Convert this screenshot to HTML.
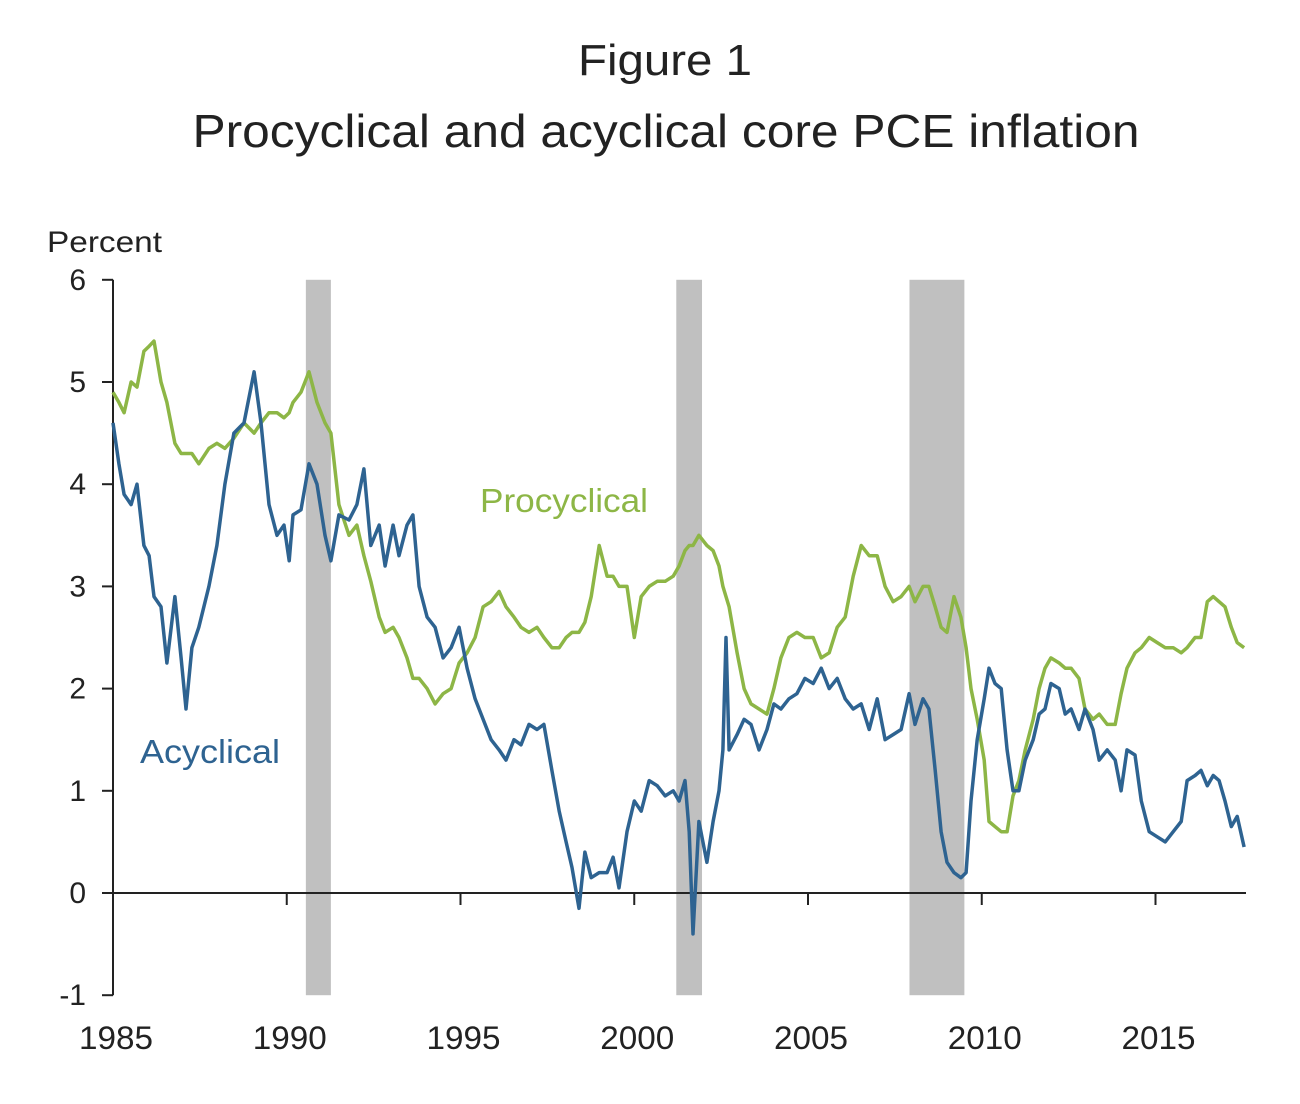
<!DOCTYPE html>
<html><head><meta charset="utf-8"><style>
html,body{margin:0;padding:0;background:#fff;}
svg{display:block;font-family:"Liberation Sans",sans-serif;}
</style></head><body>
<svg id="chart" width="1300" height="1104" viewBox="0 0 1300 1104" xmlns="http://www.w3.org/2000/svg">
<text x="665" y="75" font-size="44" text-anchor="middle" fill="#222" textLength="174" lengthAdjust="spacingAndGlyphs">Figure 1</text>
<text x="666" y="147" font-size="46" text-anchor="middle" fill="#222" textLength="947" lengthAdjust="spacingAndGlyphs">Procyclical and acyclical core PCE inflation</text>
<text x="47" y="252" font-size="30" fill="#222" textLength="115" lengthAdjust="spacingAndGlyphs">Percent</text>
<g id="rec"></g>
<g id="axes"></g>
<g id="series"></g>
<text x="480" y="512" font-size="33" fill="#8db646" textLength="168" lengthAdjust="spacingAndGlyphs">Procyclical</text>
<text x="140" y="763" font-size="33" fill="#2e6391" textLength="140" lengthAdjust="spacingAndGlyphs">Acyclical</text>
</svg>
<script>
const dates=[1985.00,1985.17,1985.32,1985.52,1985.69,1985.89,1986.04,1986.18,1986.38,1986.55,1986.78,1986.96,1987.10,1987.27,1987.47,1987.76,1987.99,1988.22,1988.48,1988.77,1989.06,1989.26,1989.49,1989.72,1989.92,1990.07,1990.18,1990.41,1990.64,1990.87,1991.10,1991.27,1991.50,1991.79,1992.02,1992.22,1992.42,1992.66,1992.83,1993.06,1993.23,1993.46,1993.63,1993.81,1994.04,1994.27,1994.50,1994.73,1994.96,1995.19,1995.42,1995.65,1995.88,1996.11,1996.31,1996.54,1996.74,1996.97,1997.20,1997.40,1997.63,1997.84,1998.04,1998.21,1998.41,1998.58,1998.76,1998.99,1999.22,1999.39,1999.56,1999.79,2000.00,2000.20,2000.43,2000.66,2000.89,2001.12,2001.29,2001.46,2001.58,2001.69,2001.86,2002.09,2002.27,2002.44,2002.55,2002.64,2002.73,2002.96,2003.16,2003.36,2003.59,2003.82,2004.02,2004.22,2004.45,2004.68,2004.91,2005.15,2005.38,2005.61,2005.84,2006.07,2006.30,2006.53,2006.76,2006.99,2007.22,2007.45,2007.68,2007.91,2008.08,2008.31,2008.48,2008.66,2008.83,2009.00,2009.20,2009.40,2009.55,2009.69,2009.87,2010.07,2010.21,2010.38,2010.56,2010.73,2010.90,2011.07,2011.25,2011.48,2011.65,2011.82,2011.99,2012.23,2012.40,2012.57,2012.80,2012.97,2013.20,2013.38,2013.61,2013.84,2014.01,2014.18,2014.41,2014.59,2014.82,2015.05,2015.28,2015.51,2015.74,2015.91,2016.14,2016.31,2016.49,2016.66,2016.83,2017.00,2017.18,2017.35,2017.55];
const acyclical=[4.6,4.2,3.9,3.8,4.0,3.4,3.3,2.9,2.8,2.25,2.9,2.3,1.8,2.4,2.6,3.0,3.4,4.0,4.5,4.6,5.1,4.6,3.8,3.5,3.6,3.25,3.7,3.75,4.2,4.0,3.5,3.25,3.7,3.65,3.8,4.15,3.4,3.6,3.2,3.6,3.3,3.6,3.7,3.0,2.7,2.6,2.3,2.4,2.6,2.2,1.9,1.7,1.5,1.4,1.3,1.5,1.45,1.65,1.6,1.65,1.2,0.8,0.5,0.25,-0.15,0.4,0.15,0.2,0.2,0.35,0.05,0.6,0.9,0.8,1.1,1.05,0.95,1.0,0.9,1.1,0.6,-0.4,0.7,0.3,0.7,1.0,1.4,2.5,1.4,1.55,1.7,1.65,1.4,1.6,1.85,1.8,1.9,1.95,2.1,2.05,2.2,2.0,2.1,1.9,1.8,1.85,1.6,1.9,1.5,1.55,1.6,1.95,1.65,1.9,1.8,1.2,0.6,0.3,0.2,0.15,0.2,0.9,1.5,1.9,2.2,2.05,2.0,1.4,1.0,1.0,1.3,1.5,1.75,1.8,2.05,2.0,1.75,1.8,1.6,1.8,1.6,1.3,1.4,1.3,1.0,1.4,1.35,0.9,0.6,0.55,0.5,0.6,0.7,1.1,1.15,1.2,1.05,1.15,1.1,0.9,0.65,0.75,0.45];
const procyclical=[4.9,4.8,4.7,5.0,4.95,5.3,5.35,5.4,5.0,4.8,4.4,4.3,4.3,4.3,4.2,4.35,4.4,4.35,4.45,4.6,4.5,4.6,4.7,4.7,4.65,4.7,4.8,4.9,5.1,4.8,4.6,4.5,3.8,3.5,3.6,3.3,3.05,2.7,2.55,2.6,2.5,2.3,2.1,2.1,2.0,1.85,1.95,2.0,2.25,2.35,2.5,2.8,2.85,2.95,2.8,2.7,2.6,2.55,2.6,2.5,2.4,2.4,2.5,2.55,2.55,2.65,2.9,3.4,3.1,3.1,3.0,3.0,2.5,2.9,3.0,3.05,3.05,3.1,3.2,3.35,3.4,3.4,3.5,3.4,3.35,3.2,3.0,2.9,2.8,2.35,2.0,1.85,1.8,1.75,2.0,2.3,2.5,2.55,2.5,2.5,2.3,2.35,2.6,2.7,3.1,3.4,3.3,3.3,3.0,2.85,2.9,3.0,2.85,3.0,3.0,2.8,2.6,2.55,2.9,2.7,2.4,2.0,1.7,1.3,0.7,0.65,0.6,0.6,0.95,1.1,1.4,1.7,2.0,2.2,2.3,2.25,2.2,2.2,2.1,1.8,1.7,1.75,1.65,1.65,1.95,2.2,2.35,2.4,2.5,2.45,2.4,2.4,2.35,2.4,2.5,2.5,2.85,2.9,2.85,2.8,2.6,2.45,2.4];
const recessionStarts=[1990.55,2001.21,2007.92];
const recessionEnds=[1991.27,2001.95,2009.50];
const yTicks=[6,5,4,3,2,1,0,-1];
const xTicks=[1985,1990,1995,2000,2005,2010,2015];

const NS='http://www.w3.org/2000/svg';
const x=v=>113+(v-1985)*34.75;
const y=v=>893-v*102.2;
function mk(tag,attrs,parent){const e=document.createElementNS(NS,tag);for(const k in attrs)e.setAttribute(k,attrs[k]);parent.appendChild(e);return e;}
const rec=document.getElementById('rec'),ax=document.getElementById('axes'),se=document.getElementById('series');
recessionStarts.forEach((s,i)=>{
  const r=mk('rect',{x:x(s),y:y(6),width:x(recessionEnds[i])-x(s),height:y(-1)-y(6),fill:'#c0c0c0'},rec);
  
  
});
const yl=mk('line',{x1:113,x2:113,y1:y(6),y2:y(-1),stroke:'#222','stroke-width':2},ax);


const zl=mk('line',{x1:102,x2:1246,y1:y(0),y2:y(0),stroke:'#222','stroke-width':2},ax);


yTicks.forEach(t=>{
  const l=mk('line',{x1:102,x2:113,y1:y(t),y2:y(t),stroke:'#222','stroke-width':2},ax);
  
  
  const tx=mk('text',{x:86,y:y(t)+10,'font-size':30,'text-anchor':'end',fill:'#222'},ax);
  tx.textContent=t;
  
  
});
xTicks.forEach(t=>{
  if(t>1985){const l=mk('line',{x1:x(t),x2:x(t),y1:y(0),y2:y(0)+12,stroke:'#222','stroke-width':2},ax);
  
  }
  const tx=mk('text',{x:x(t)+3,y:1049,'font-size':32,'text-anchor':'middle',fill:'#222',textLength:74,lengthAdjust:'spacingAndGlyphs'},ax);
  tx.textContent=t;
  
  
});
function path(vals,color,name){
  const d=vals.map((v,i)=>(i?'L':'M')+x(dates[i]).toFixed(1)+','+y(v).toFixed(1)).join('');
  const p=mk('path',{d:d,fill:'none',stroke:color,'stroke-width':3.5,'stroke-linejoin':'round'},se);
  
  
}
path(procyclical,'#8db646','procyclical-line');
path(acyclical,'#2e6391','acyclical-line');
</script>
</body></html>
